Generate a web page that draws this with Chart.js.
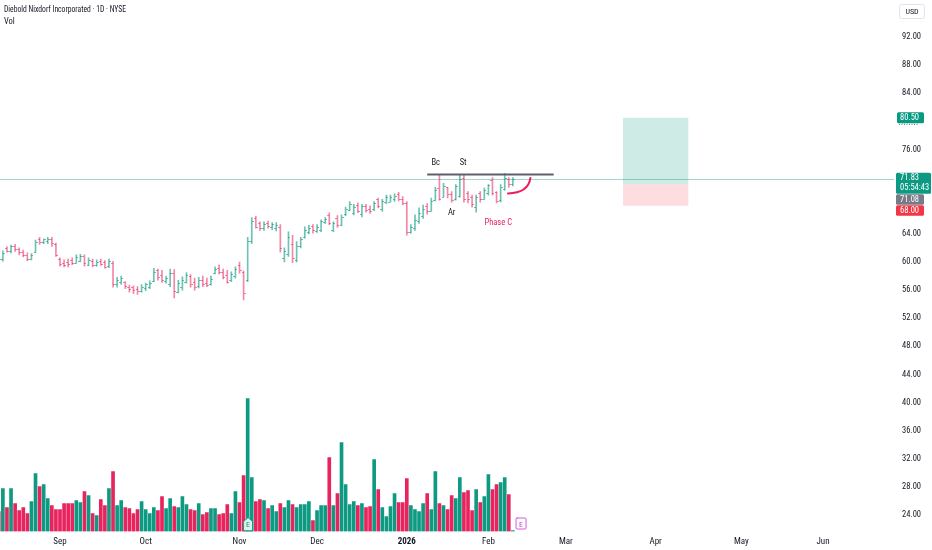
<!DOCTYPE html>
<html><head><meta charset="utf-8">
<script src="https://cdn.jsdelivr.net/npm/chart.js@4.4.1/dist/chart.umd.min.js"></script>
<style>html,body{margin:0;padding:0;background:#fff;overflow:hidden}#wrap{width:932px;height:550px;position:relative}canvas{display:block}</style>
</head><body><div id="wrap"><canvas id="c" width="932" height="550"></canvas></div>
<script>
// ---------------- data ----------------
const chartTitle = 'Diebold Nixdorf Incorporated · 1D · NYSE';
const volumeTitle = 'Vol';
const currency = 'USD';
// daily bars, index 0 = 2025-08-11 ... index 126 = 2026-02-10 (trading days)
const monthTickIdx = [15, 36, 59, 78, 100, 120, 139, 161, 182, 202];
const monthTickLabels = ['Sep', 'Oct', 'Nov', 'Dec', '2026', 'Feb', 'Mar', 'Apr', 'May', 'Jun'];
const priceTicks = [24, 28, 32, 36, 40, 44, 48, 52, 56, 60, 64, 76, 84, 88, 92];

const opens = [61.2,60.4,62.0,61.6,62.2,61.8,61.4,61.0,60.4,61.4, 63.3,62.8,63.0,63.3,62.6,60.4,59.9,60.0,60.3,59.9, 60.1,60.8,59.6,60.2,59.5,60.1,60.0,59.4,59.9,56.8, 57.1,57.2,56.5,56.4,56.2,55.8,56.3,56.5,57.3,58.8, 58.2,57.3,56.8,58.5,55.7,56.5,57.2,58.0,57.2,56.6, 57.5,57.0,56.9,58.5,59.2,58.6,58.2,57.4,58.0,59.6, 58.6,57.4,63.0,66.2,65.5,64.8,65.5,65.0,64.9,65.0, 60.6,61.2,62.5,60.3,62.3,63.6,64.3,65.1,64.4,64.6, 65.7,66.7,64.6,66.2,65.3,66.8,67.4,66.9,68.1,66.8, 68.0,67.6,67.5,69.0,67.6,68.5,68.6,68.9,69.6,69.0, 68.4,64.2,64.8,65.8,66.5,68.0,67.3,68.8,70.5,69.3, 70.6,69.7,69.0,69.4,72.0,69.8,69.2,67.8,69.8,69.0, 69.8,71.6,69.9,68.8,70.4,71.8,71.1];
const highs = [61.6,61.6,62.2,62.4,62.5,62.0,61.7,61.3,61.2,63.1, 63.5,63.3,63.5,63.5,62.7,60.6,60.3,60.4,60.6,61.0, 61.1,61.0,60.6,60.4,60.3,60.4,60.2,60.4,60.1,57.8, 58.0,57.2,56.7,56.6,56.5,56.8,57.0,57.3,59.1,59.0, 58.8,58.0,59.0,58.9,57.4,57.9,58.5,58.2,57.7,57.8, 58.0,57.7,58.0,59.3,59.6,59.0,58.8,58.6,59.3,60.0, 58.7,63.5,66.3,66.5,65.7,65.7,65.8,65.6,65.6,65.3, 62.0,64.3,63.8,62.9,63.5,65.0,65.2,65.3,65.3,66.0, 66.3,67.0,65.7,66.6,66.7,67.8,68.6,68.2,68.4,68.2, 68.2,68.0,68.6,69.1,68.9,69.5,69.5,69.7,69.9,69.3, 68.6,65.3,66.7,67.7,68.1,68.3,69.1,70.6,72.4,71.2, 70.6,70.0,71.0,72.4,72.4,70.0,69.5,69.5,70.0,70.5, 71.0,72.0,70.0,71.0,72.6,72.0,72.0];
const lows = [60.0,60.1,61.4,61.3,61.5,61.0,60.7,60.2,60.3,61.4, 62.5,62.6,62.6,62.2,60.8,59.4,59.3,59.3,59.6,59.8, 60.0,59.4,59.5,59.3,59.4,59.5,59.1,59.2,56.4,56.4, 56.8,56.2,55.7,55.5,55.4,55.7,55.9,56.2,57.2,57.4, 57.1,57.0,56.5,54.9,55.6,56.0,57.0,56.4,56.0,56.3, 56.5,56.5,56.7,58.3,58.3,57.6,57.0,57.2,57.7,58.4, 54.6,57.2,62.6,64.8,64.5,64.5,64.8,64.6,64.4,61.4, 60.0,60.8,59.9,60.0,62.0,63.4,64.0,64.1,64.2,64.3, 65.5,65.3,64.3,64.9,65.2,66.6,67.3,66.7,67.0,66.4, 67.1,66.9,67.3,67.7,67.2,68.3,68.5,68.6,68.7,68.1, 63.8,64.1,64.5,65.5,66.2,66.8,67.2,68.7,68.8,69.3, 69.1,68.5,68.8,69.2,68.5,68.4,67.8,67.1,68.5,68.9, 69.5,69.5,68.4,68.5,70.2,70.6,70.8];
const closes = [60.4,61.3,61.6,62.2,61.8,61.4,61.0,60.4,61.0,62.9, 62.8,63.2,63.3,62.7,61.0,59.7,59.6,59.7,59.8,60.7, 60.8,59.8,60.3,59.5,60.0,59.7,59.3,60.1,56.8,57.5, 57.7,56.6,56.1,56.0,55.9,56.5,56.8,57.0,58.6,57.8, 57.5,57.7,58.5,55.8,57.0,57.4,58.2,56.8,56.5,57.5, 56.8,56.7,57.6,59.0,58.6,57.8,57.2,58.3,59.0,58.8, 55.6,63.0,65.8,65.0,64.8,65.4,65.1,65.4,65.3,62.0, 61.5,63.5,60.5,62.2,63.2,64.6,64.9,64.5,65.0,65.8, 66.1,65.5,65.6,65.2,66.4,67.6,68.3,67.8,67.2,67.9, 67.4,67.2,68.4,68.0,68.7,69.2,69.3,69.4,68.9,68.4, 64.3,65.0,66.0,67.0,67.6,67.2,68.7,70.3,69.0,70.8, 69.6,68.8,70.8,71.8,69.0,68.9,68.3,69.2,69.0,70.2, 70.9,69.8,68.7,70.6,71.9,71.08,71.83];
// volume, thousands of shares
const volumes = [200,430,240,430,280,210,240,180,300,580, 450,470,330,260,220,220,280,280,280,310, 290,400,360,180,160,320,260,430,600,260, 310,240,230,180,220,300,220,180,240,210, 350,230,330,250,240,350,270,220,210,280, 170,190,230,230,170,180,270,180,400,290, 560,1330,540,300,320,310,230,260,200,280, 240,310,270,240,270,270,300,110,210,260, 260,740,260,380,890,470,270,300,260,280, 240,250,720,420,240,150,250,380,290,290, 530,260,220,200,280,380,220,600,280,260, 220,360,330,540,390,410,210,420,290,350, 570,420,470,490,540,370,10];

const lastPrice = 71.83;
const countdown = '05:54:43';
const resistance = { from: 105, to: 136, price: 72.45 };
const positionTool = { from: 153, to: 169, target: 80.50, entry: 71.08, stop: 68.00 };
const notes = [
  { text: 'Bc', i: 107.1, p: 74.1, color: '#131722' },
  { text: 'St', i: 113.8, p: 74.1, color: '#131722' },
  { text: 'Ar', i: 111.0, p: 67.05, color: '#131722' },
  { text: 'Phase C', i: 122.4, p: 65.5, color: '#e91e63' }
];
const phaseArc = { i0: 124.8, p0: 69.75, ic: 129.8, pc: 69.8, i1: 130.3, p1: 71.95 };
const earnings = [{ i: 61.1, kind: 'past' }, { i: 128, kind: 'future' }];

// ---------------- layout constants ----------------
const PXB = 4.08, X0 = -1.2;          // px per bar, pixel of index 0
const PXU = 7.03, YREF = 37, PREF = 92; // px per USD, pixel of 92.00
const VOL_PX = 0.1;                    // px per thousand shares
const FONT = "'Liberation Sans Narrow','Roboto Condensed','Liberation Sans',Arial,sans-serif";
const VG = '#0e9a82', VR = '#e8245e';
const PG = 'rgba(14,154,130,0.6)', PR = 'rgba(232,36,94,0.55)';
const isUp = i => closes[i] >= opens[i];

function limits(a) {
  return {
    xmin: (a.left - X0) / PXB, xmax: (a.right - X0) / PXB,
    ymin: PREF - (a.bottom - YREF) / PXU, ymax: PREF + (YREF - a.top) / PXU,
    vmax: (a.bottom - a.top) / VOL_PX
  };
}
const L0 = limits({ left: 0, right: 894, top: 0, bottom: 531.5 });

function roundBox(ctx, x, y, w, h, r, fill, stroke) {
  ctx.beginPath();
  ctx.roundRect(x, y, w, h, r);
  if (fill) { ctx.fillStyle = fill; ctx.fill(); }
  if (stroke) { ctx.strokeStyle = stroke; ctx.lineWidth = 1; ctx.stroke(); }
}

const tvPlugin = {
  id: 'tv',
  beforeDatasetsDraw(ch) {
    const { ctx, chartArea: a, scales: { x, y } } = ch;
    ctx.save();
    // long position tool
    const x0 = x.getPixelForValue(positionTool.from), x1 = x.getPixelForValue(positionTool.to);
    const yt = y.getPixelForValue(positionTool.target), ye = y.getPixelForValue(positionTool.entry), ys = y.getPixelForValue(positionTool.stop);
    ctx.fillStyle = 'rgba(8,153,129,0.2)'; ctx.fillRect(x0, yt, x1 - x0, ye - yt);
    ctx.fillStyle = 'rgba(242,54,69,0.17)'; ctx.fillRect(x0, ye, x1 - x0, ys - ye);
    // last price line
    const yl = Math.round(y.getPixelForValue(lastPrice)) + 0.5;
    ctx.strokeStyle = 'rgba(8,153,129,0.4)'; ctx.lineWidth = 1;
    ctx.beginPath(); ctx.moveTo(a.left, yl); ctx.lineTo(a.right, yl); ctx.stroke();
    ctx.restore();
  },
  afterDatasetsDraw(ch) {
    const { ctx, chartArea: a, scales: { x, y } } = ch;
    ctx.save();
    // open / close ticks of OHLC bars
    ctx.lineWidth = 1;
    for (let i = 0; i < opens.length; i++) {
      const xp = Math.round(x.getPixelForValue(i));
      const yo = Math.round(y.getPixelForValue(opens[i])) + 0.5;
      const yc = Math.round(y.getPixelForValue(closes[i])) + 0.5;
      ctx.strokeStyle = isUp(i) ? PG : PR;
      ctx.beginPath();
      ctx.moveTo(xp - 2, yo); ctx.lineTo(xp, yo);
      ctx.moveTo(xp, yc); ctx.lineTo(xp + 2, yc);
      ctx.stroke();
    }
    // resistance line
    const yr = y.getPixelForValue(resistance.price);
    ctx.strokeStyle = '#5d606b'; ctx.lineWidth = 2;
    ctx.beginPath(); ctx.moveTo(x.getPixelForValue(resistance.from), yr); ctx.lineTo(x.getPixelForValue(resistance.to), yr); ctx.stroke();
    // phase C arc
    ctx.strokeStyle = '#e91e63'; ctx.lineWidth = 2; ctx.lineCap = 'round';
    ctx.beginPath();
    ctx.moveTo(x.getPixelForValue(phaseArc.i0), y.getPixelForValue(phaseArc.p0));
    ctx.quadraticCurveTo(x.getPixelForValue(phaseArc.ic), y.getPixelForValue(phaseArc.pc), x.getPixelForValue(phaseArc.i1), y.getPixelForValue(phaseArc.p1));
    ctx.stroke();
    // notes
    ctx.font = '8.5px ' + FONT; ctx.textAlign = 'center'; ctx.textBaseline = 'middle';
    notes.forEach(n => { ctx.fillStyle = n.color; ctx.fillText(n.text, x.getPixelForValue(n.i), y.getPixelForValue(n.p)); });
    // earnings markers
    earnings.forEach(e => {
      const cx = x.getPixelForValue(e.i), yb = a.bottom - 1;
      if (e.kind === 'past') {
        ctx.beginPath();
        ctx.moveTo(cx - 4.5, yb); ctx.lineTo(cx - 4.5, yb - 9); ctx.lineTo(cx, yb - 13); ctx.lineTo(cx + 4.5, yb - 9); ctx.lineTo(cx + 4.5, yb); ctx.closePath();
        ctx.fillStyle = '#dff2ee'; ctx.fill(); ctx.strokeStyle = '#0e9a82'; ctx.lineWidth = 1; ctx.stroke();
        ctx.fillStyle = '#0e9a82';
      } else {
        ctx.lineWidth = 1;
        roundBox(ctx, cx - 5, yb - 12.5, 10, 11, 1, '#ffffff', '#d05ce3');
        ctx.fillStyle = '#c040d8';
      }
      ctx.font = '8px ' + FONT; ctx.textAlign = 'center'; ctx.textBaseline = 'middle';
      ctx.fillText('E', cx, yb - 6);
    });
    ctx.restore();
  },
  afterDraw(ch) {
    const { ctx, chartArea: a, scales: { y } } = ch;
    ctx.save();
    // title and indicator name
    ctx.fillStyle = '#131722'; ctx.textAlign = 'left'; ctx.textBaseline = 'middle';
    ctx.font = '8.5px ' + FONT;
    const tw = ctx.measureText(chartTitle).width, target = 122;
    ctx.save(); ctx.translate(4, 10);
    if (tw > target) ctx.scale(target / tw, 1);
    ctx.fillText(chartTitle, 0, 0); ctx.restore();
    ctx.fillText(volumeTitle, 4, 22);
    // currency box
    roundBox(ctx, 899.5, 4.5, 25, 14, 2, '#ffffff', '#e0e3eb');
    ctx.fillStyle = '#131722'; ctx.textAlign = 'center'; ctx.font = '8px ' + FONT;
    ctx.fillText(currency, 912, 11.5);
    // price scale labels
    const lx = 897;
    const yT = y.getPixelForValue(positionTool.target);
    roundBox(ctx, lx, yT - 5.5, 27, 11, 1.5, '#089981');
    ctx.fillStyle = '#fff'; ctx.textAlign = 'left'; ctx.font = '8.5px ' + FONT;
    ctx.fillText(positionTool.target.toFixed(2), lx + 3, yT + 0.5);
    ctx.strokeStyle = '#6a6d78'; ctx.setLineDash([1, 1.5]); ctx.beginPath();
    ctx.moveTo(lx + 2, yT + 6.5); ctx.lineTo(lx + 22, yT + 6.5); ctx.stroke(); ctx.setLineDash([]);
    const yL = y.getPixelForValue(lastPrice);
    const lastTop = yL - 6;
    roundBox(ctx, lx - 1, lastTop, 35, 21, 1.5, '#0e9a82');
    ctx.fillStyle = '#fff';
    ctx.fillText(lastPrice.toFixed(2), lx + 3, lastTop + 5.5);
    ctx.fillText(countdown, lx + 3, lastTop + 15);
    const entryTop = Math.max(y.getPixelForValue(positionTool.entry) - 5.5, lastTop + 21.5);
    roundBox(ctx, lx - 1, entryTop, 28, 10.5, 1.5, '#787b86');
    ctx.fillStyle = '#fff'; ctx.fillText(positionTool.entry.toFixed(2), lx + 3, entryTop + 5.5);
    const stopTop = Math.max(y.getPixelForValue(positionTool.stop) - 5.5, entryTop + 11);
    roundBox(ctx, lx - 1, stopTop, 28, 10.5, 1.5, '#f23645');
    ctx.fillStyle = '#fff'; ctx.fillText(positionTool.stop.toFixed(2), lx + 3, stopTop + 5.5);
    ctx.restore();
  }
};

const chart = new Chart(document.getElementById('c'), {
  type: 'bar',
  data: {
    datasets: [
      {
        label: 'Vol', yAxisID: 'yv', order: 2, grouped: false, barThickness: 3,
        data: volumes.map((v, i) => ({ x: i, y: v })),
        backgroundColor: volumes.map((v, i) => isUp(i) ? VG : VR)
      },
      {
        label: 'Range', yAxisID: 'y', order: 1, grouped: false, barThickness: 1,
        data: highs.map((h, i) => ({ x: i, y: [lows[i], h] })),
        backgroundColor: highs.map((h, i) => isUp(i) ? PG : PR)
      }
    ]
  },
  options: {
    responsive: false, animation: false, devicePixelRatio: 1,
    layout: { padding: 0 },
    plugins: { legend: { display: false }, tooltip: { enabled: false } },
    scales: {
      x: {
        type: 'linear', min: L0.xmin, max: L0.xmax, offset: false,
        grid: { display: false, drawTicks: false }, border: { display: false },
        afterBuildTicks: s => { s.ticks = monthTickIdx.map(v => ({ value: v })); },
        afterFit: s => { s.height = 18.5; s.paddingLeft = 0; s.paddingRight = 0; },
        ticks: {
          autoSkip: false, maxRotation: 0, padding: 5, color: '#131722',
          font: c => ({ family: FONT, size: 9, weight: (c.tick && c.tick.value === 100) ? 'bold' : 'normal' }),
          callback: v => { const k = monthTickIdx.indexOf(v); return k >= 0 ? monthTickLabels[k] : ''; }
        }
      },
      y: {
        position: 'right', min: L0.ymin, max: L0.ymax,
        grid: { display: false, drawTicks: false }, border: { display: false },
        afterBuildTicks: s => { s.ticks = priceTicks.map(v => ({ value: v })); },
        afterFit: s => { s.width = 38; s.paddingTop = 0; s.paddingBottom = 0; },
        ticks: { padding: 8, color: '#131722', font: { family: FONT, size: 8.5 }, callback: v => Number(v).toFixed(2) }
      },
      yv: { display: false, min: 0, max: L0.vmax }
    }
  },
  plugins: [tvPlugin]
});

// align scales to the actual plot area
(function () {
  const a = chart.chartArea;
  const L = limits(a);
  const o = chart.options.scales;
  if (Math.abs(L.xmin - o.x.min) > 1e-6 || Math.abs(L.xmax - o.x.max) > 1e-6 || Math.abs(L.ymin - o.y.min) > 1e-6 || Math.abs(L.ymax - o.y.max) > 1e-6) {
    o.x.min = L.xmin; o.x.max = L.xmax; o.y.min = L.ymin; o.y.max = L.ymax; o.yv.max = L.vmax;
    chart.update('none');
  }
})();
</script>
</body></html>
